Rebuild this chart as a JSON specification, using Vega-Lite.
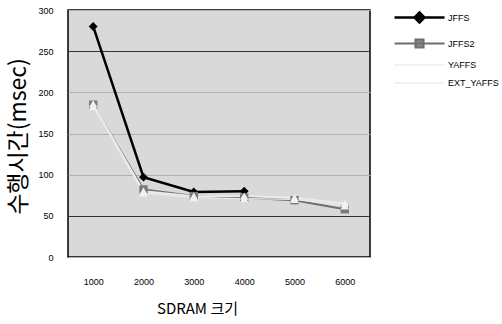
{
  "$schema": "https://vega.github.io/schema/vega-lite/v6.json",
  "width": 302,
  "height": 247,
  "autosize": "none",
  "padding": {"left": 68, "top": 10, "right": 132, "bottom": 67},
  "background": "#ffffff",
  "config": {
    "view": {"fill": "#d9d9d9", "stroke": "#000000", "strokeWidth": 1.5},
    "font": "Liberation Sans"
  },
  "data": {
    "values": [
      {"fs": "JFFS", "size": 1000, "time": 280},
      {"fs": "JFFS", "size": 2000, "time": 97},
      {"fs": "JFFS", "size": 3000, "time": 79},
      {"fs": "JFFS", "size": 4000, "time": 80},
      {"fs": "JFFS2", "size": 1000, "time": 185},
      {"fs": "JFFS2", "size": 2000, "time": 82},
      {"fs": "JFFS2", "size": 3000, "time": 74},
      {"fs": "JFFS2", "size": 4000, "time": 72},
      {"fs": "JFFS2", "size": 5000, "time": 69},
      {"fs": "JFFS2", "size": 6000, "time": 58},
      {"fs": "YAFFS", "size": 1000, "time": 186},
      {"fs": "YAFFS", "size": 2000, "time": 80},
      {"fs": "YAFFS", "size": 3000, "time": 74},
      {"fs": "YAFFS", "size": 4000, "time": 74},
      {"fs": "YAFFS", "size": 5000, "time": 72},
      {"fs": "YAFFS", "size": 6000, "time": 65},
      {"fs": "EXT_YAFFS", "size": 1000, "time": 183},
      {"fs": "EXT_YAFFS", "size": 2000, "time": 78},
      {"fs": "EXT_YAFFS", "size": 3000, "time": 72},
      {"fs": "EXT_YAFFS", "size": 4000, "time": 71},
      {"fs": "EXT_YAFFS", "size": 5000, "time": 70},
      {"fs": "EXT_YAFFS", "size": 6000, "time": 62}
    ]
  },
  "encoding": {
    "x": {
      "field": "size",
      "type": "quantitative",
      "scale": {"domain": [500, 6500], "nice": false, "zero": false},
      "axis": {
        "values": [1000, 2000, 3000, 4000, 5000, 6000],
        "format": "d",
        "grid": false,
        "ticks": false,
        "domain": false,
        "labelFontSize": 9,
        "labelColor": "#000000",
        "labelPadding": 20,
        "title": "SDRAM 크기",
        "titleFont": "Noto Sans CJK KR",
        "titleFontSize": 15,
        "titleFontWeight": "normal",
        "titleColor": "#000000",
        "titleX": 129,
        "titleY": 51,
        "titleAlign": "center",
        "titleBaseline": "middle"
      }
    },
    "y": {
      "field": "time",
      "type": "quantitative",
      "scale": {"domain": [0, 300], "nice": false},
      "axis": {
        "values": [0, 50, 100, 150, 200, 250, 300],
        "grid": true,
        "gridColor": {"condition": {"test": "datum.value == 250 || datum.value == 50", "value": "#333333"}, "value": "#b0b0b0"},
        "gridWidth": 1,
        "ticks": false,
        "domain": false,
        "labelFontSize": 9,
        "labelColor": "#000000",
        "labelPadding": 15,
        "title": "수행시간(msec)",
        "titleFont": "Noto Sans CJK KR",
        "titleFontSize": 23,
        "titleFontWeight": "normal",
        "titleColor": "#000000",
        "titleX": -50,
        "titleY": 126,
        "titleAngle": -90,
        "titleAlign": "center",
        "titleBaseline": "middle"
      }
    }
  },
  "layer": [
    {
      "mark": {"type": "line"},
      "encoding": {
        "color": {
          "field": "fs",
          "type": "nominal",
          "scale": {"domain": ["JFFS", "JFFS2", "YAFFS", "EXT_YAFFS"], "range": ["#000000", "#6e6e6e", "#ececec", "#ececec"]},
          "legend": {
            "orient": "none",
            "legendX": 325,
            "legendY": 1,
            "title": null,
            "labelFontSize": 9,
            "labelColor": "#000000",
            "labelOffset": 42,
            "rowPadding": 7,
            "symbolSize": 100,
            "encode": {
              "symbols": {
                "update": {
                  "shape": {"signal": "datum.value == 'JFFS' ? 'M-1,0H9M4,-1L5,0L4,1L3,0Z' : datum.value == 'JFFS2' ? 'M-1,0H9M3.2,-0.8H4.8V0.8H3.2Z' : 'M-1,0H9'"},
                  "fill": {"signal": "datum.value == 'JFFS' ? '#000000' : datum.value == 'JFFS2' ? '#8a8a8a' : '#ffffff'"},
                  "stroke": {"signal": "datum.value == 'JFFS' ? '#000000' : datum.value == 'JFFS2' ? '#555555' : '#ffffff'"},
                  "strokeWidth": {"signal": "datum.value == 'JFFS' ? 1.6 : 1.2"},
                  "size": {"value": 100},
                  "opacity": {"value": 1},
                  "fillOpacity": {"value": 1},
                  "strokeOpacity": {"value": 1}
                }
              }
            }
          }
        },
        "strokeWidth": {
          "field": "fs",
          "type": "nominal",
          "scale": {"domain": ["JFFS", "JFFS2", "YAFFS", "EXT_YAFFS"], "range": [2.5, 1.3, 1.2, 1.2]},
          "legend": null
        }
      }
    },
    {
      "transform": [{"filter": "datum.fs == 'JFFS'"}],
      "mark": {"type": "point", "filled": true, "size": 80, "opacity": 1, "shape": "diamond", "color": "#000000"}
    },
    {
      "transform": [{"filter": "datum.fs == 'JFFS2'"}],
      "mark": {"type": "point", "filled": true, "size": 70, "opacity": 1, "shape": "square", "color": "#7a7a7a"}
    },
    {
      "transform": [{"filter": "datum.fs == 'YAFFS' || datum.fs == 'EXT_YAFFS'"}],
      "mark": {"type": "point", "filled": true, "size": 70, "opacity": 1, "shape": "triangle-up", "color": "#f2f2f2"}
    }
  ]
}
